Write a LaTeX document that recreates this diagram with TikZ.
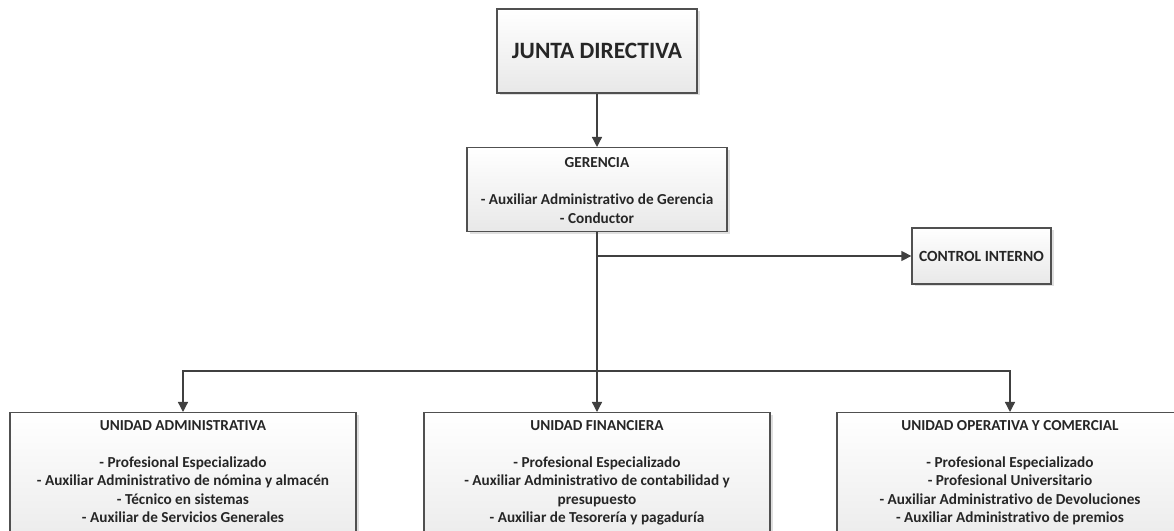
\documentclass[tikz,border=0pt]{standalone}
\usepackage{fontspec}
\setmainfont{Carlito}[Ligatures={NoCommon}]
\usetikzlibrary{arrows.meta,shadows}
\definecolor{txt}{HTML}{262626}
\definecolor{edge}{HTML}{404040}
\definecolor{bord}{HTML}{505050}
\tikzset{
  box/.style={draw=bord, line width=1.3bp, top color=white, bottom color=black!9,
    drop shadow={shadow xshift=2.5bp, shadow yshift=-2.5bp, fill=black!18, opacity=0.7},
    text=txt, font=\bfseries, inner sep=0pt, align=center},
  arr/.style={draw=edge, line width=1.3bp, -{Triangle[length=10bp,width=10bp]}},
}
\newcommand{\itemsbox}[2]{\parbox[t][150bp][t]{346bp}{\centering\fontsize{15.3}{18.6}\selectfont\bfseries\rule{0pt}{17.5bp}#1\\[18.6bp]#2}}
\begin{document}
\begin{tikzpicture}[x=1bp,y=-1bp]
\useasboundingbox (0,0) rectangle (1174,531);
\clip (0,0) rectangle (1174,531);
\node[box, minimum width=200bp, minimum height=84bp, font=\fontsize{23.5}{28}\selectfont\bfseries] (jd) at (597,51) {JUNTA DIRECTIVA};
\node[box, minimum width=260bp, minimum height=84bp, anchor=north] (ger) at (597,147)
  {\parbox[t][84bp][t]{258bp}{\centering\fontsize{15.3}{18.6}\selectfont\bfseries\rule{0pt}{20bp}GERENCIA\\[18.6bp]- Auxiliar Administrativo de Gerencia\\- Conductor}};
\node[box, minimum width=139bp, minimum height=56bp, font=\fontsize{15.6}{18}\selectfont\bfseries] (ci) at (981.5,256) {CONTROL INTERNO};
\node[box, anchor=north] (ua) at (183,412) {\itemsbox{UNIDAD ADMINISTRATIVA}{- Profesional Especializado\\- Auxiliar Administrativo de nómina y almacén\\- Técnico en sistemas\\- Auxiliar de Servicios Generales}};
\node[box, anchor=north] (uf) at (597,412) {\itemsbox{UNIDAD FINANCIERA}{- Profesional Especializado\\- Auxiliar Administrativo de contabilidad y\\presupuesto\\- Auxiliar de Tesorería y pagaduría}};
\node[box, anchor=north] (uo) at (1010,412) {\itemsbox{UNIDAD OPERATIVA Y COMERCIAL}{- Profesional Especializado\\- Profesional Universitario\\- Auxiliar Administrativo de Devoluciones\\- Auxiliar Administrativo de premios}};
\coordinate (bus) at (597,371);
\draw[arr] (jd) -- (ger);
\draw[arr] (ger.south) |- (ci.west);
\draw[arr] (ger.south) -- (uf.north);
\draw[arr] (bus) -| (ua.north);
\draw[arr] (bus) -| (uo.north);
\end{tikzpicture}
\end{document}
